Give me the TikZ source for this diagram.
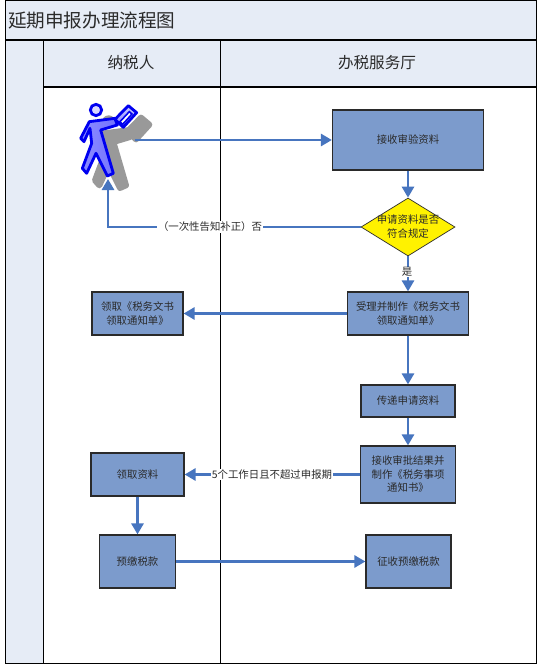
\documentclass[tikz,border=0pt]{standalone}
\usepackage{fontspec}
\setmainfont{Noto Sans CJK SC}[Scale=1]
\usetikzlibrary{arrows.meta,shapes.geometric}
\definecolor{band}{HTML}{E6ECF6}
\definecolor{boxfill}{HTML}{7C9BCC}
\definecolor{flow}{HTML}{4775BF}
\definecolor{ink}{HTML}{2A2A2A}
\definecolor{shadowgray}{HTML}{999999}
\definecolor{walker}{HTML}{0000F0}
\tikzset{
  lane/.style={draw=black,line width=0.9pt},
  bandcell/.style={draw=black,line width=1pt,fill=band},
  stepbox/.style={draw=ink,line width=1.2pt,fill=boxfill,text=ink,align=center,font=\fontsize{10.4}{13.5}\selectfont,inner sep=0pt,minimum width=#1},
  decide/.style={diamond,aspect=1.62,draw=ink,line width=0.7pt,fill=yellow,text=ink,font=\fontsize{10.4}{13.5}\selectfont,inner sep=0pt,minimum width=94pt,minimum height=58pt},
  flowline/.style={draw=flow,line width=2.8pt,-{Triangle[length=11pt,width=12pt]}},
  edgelabel/.style={fill=white,inner sep=0.6pt,text=ink,font=\fontsize{10.4}{12}\selectfont},
  headtext/.style={text=ink,font=\fontsize{15.6}{18}\selectfont}
}
\newcommand{\walkerbody}{(88,95) -- (165,85) -- (172,105) -- (122,120) -- (160,250) -- (142,258) -- (108,190) -- (80,250) -- (67,235) -- (95,160) -- (90,115) -- (72,155) -- (62,145) -- cycle}
\newcommand{\walkerbag}{(165,88) -- (205,47) -- (230,68) -- (190,112) -- cycle}
\begin{document}
\begin{tikzpicture}[x=1pt,y=-1pt]
\useasboundingbox (0,0) rectangle (540,666);
\fill[white] (0,0) rectangle (540,666);
% frame
\draw[bandcell] (5,1) rectangle (536,40);
\draw[bandcell] (5,40) rectangle (43,663);
\draw[bandcell] (43,40) rectangle (220,87);
\draw[bandcell] (220,40) rectangle (536,87);
\draw[lane] (43,87) rectangle (536,663);
\draw[lane] (220,87) -- (220,663);
\draw[line width=1.4pt,black] (5,40) -- (536,40);
\node[text=ink,font=\fontsize{18.6}{20}\selectfont,anchor=west,inner sep=0pt] (title) at (8,20) {延期申报办理流程图};
\node[headtext] (h1) at (131,63) {纳税人};
\node[headtext] (h2) at (377,63) {办税服务厅};
% boxes
\node[stepbox=151pt,minimum height=60pt] (s1) at (408,140) {接收审验资料};
\node[decide] (d) at (408,227) {\smash{\makebox[0pt]{\raisebox{-3.5pt}{\begin{tabular}{@{}c@{}}申请资料是否\\符合规定\end{tabular}}}}};
\node[stepbox=121pt,minimum height=43pt] (s2) at (408,313.5) {受理并制作《税务文书\\领取通知单》};
\node[stepbox=91pt,minimum height=43pt] (t1) at (137.5,313.5) {领取《税务文书\\领取通知单》};
\node[stepbox=94pt,minimum height=32pt] (s3) at (408,401) {传递申请资料};
\node[stepbox=95pt,minimum height=57pt] (s4) at (408,474.5) {接收审批结果并\\制作《税务事项\\通知书》};
\node[stepbox=93pt,minimum height=43pt] (t2) at (137.5,474.5) {领取资料};
\node[stepbox=76pt,minimum height=53pt] (t3) at (137.5,561.5) {预缴税款};
\node[stepbox=85pt,minimum height=53pt] (s5) at (408.5,561.5) {征收预缴税款};
% walker
\coordinate (pr) at (135,140);
\coordinate (pb) at (108,179);
\coordinate (bend) at (108,227);
\begin{scope}[shift={(60,90)},x=0.3333pt,y=-0.3333pt]
  \begin{scope}[shift={(38,36)}]
    \fill[shadowgray,draw=shadowgray,line width=6pt,line join=round] \walkerbody;
    \fill[shadowgray,draw=shadowgray,line width=6pt,line join=round] \walkerbag;
    \fill[shadowgray] (108,60) circle (20);
  \end{scope}
  \draw[walker,line width=2.8pt,line join=round,left color=blue!45,middle color=blue!8,right color=blue!55] \walkerbody;
  \draw[walker,line width=2.8pt,line join=round,top color=blue!20,bottom color=blue!50] \walkerbag;
  \draw[walker,line width=1.6pt,fill=white] (180,95) -- (208,65) -- (216,72) -- (188,103) -- cycle;
  \draw[walker,line width=2.8pt,fill=blue!15] (108,60) circle (17);
\end{scope}
% connectors
\draw[flowline] (pr) -- (s1.west);
\draw[flowline] (s1.south) -- (d.north);
\draw[flowline] (d.west) -- (bend) -- (pb);
\node[edgelabel] (l1) at (210,227) {（一次性告知补正）否};
\draw[flowline] (d.south) -- (s2.north);
\node[edgelabel] (l2) at (407,272) {是};
\draw[flowline] (s2.west) -- (t1.east);
\draw[flowline] (s2.south) -- (s3.north);
\draw[flowline] (s3.south) -- (s4.north);
\draw[flowline] (s4.west |- t2.east) -- (t2.east);
\node[edgelabel] (l3) at (272,474.5) {5个工作日且不超过申报期};
\draw[flowline] (t2.south) -- (t3.north);
\draw[flowline] (t3.east) -- (s5.west);
\end{tikzpicture}
\end{document}
